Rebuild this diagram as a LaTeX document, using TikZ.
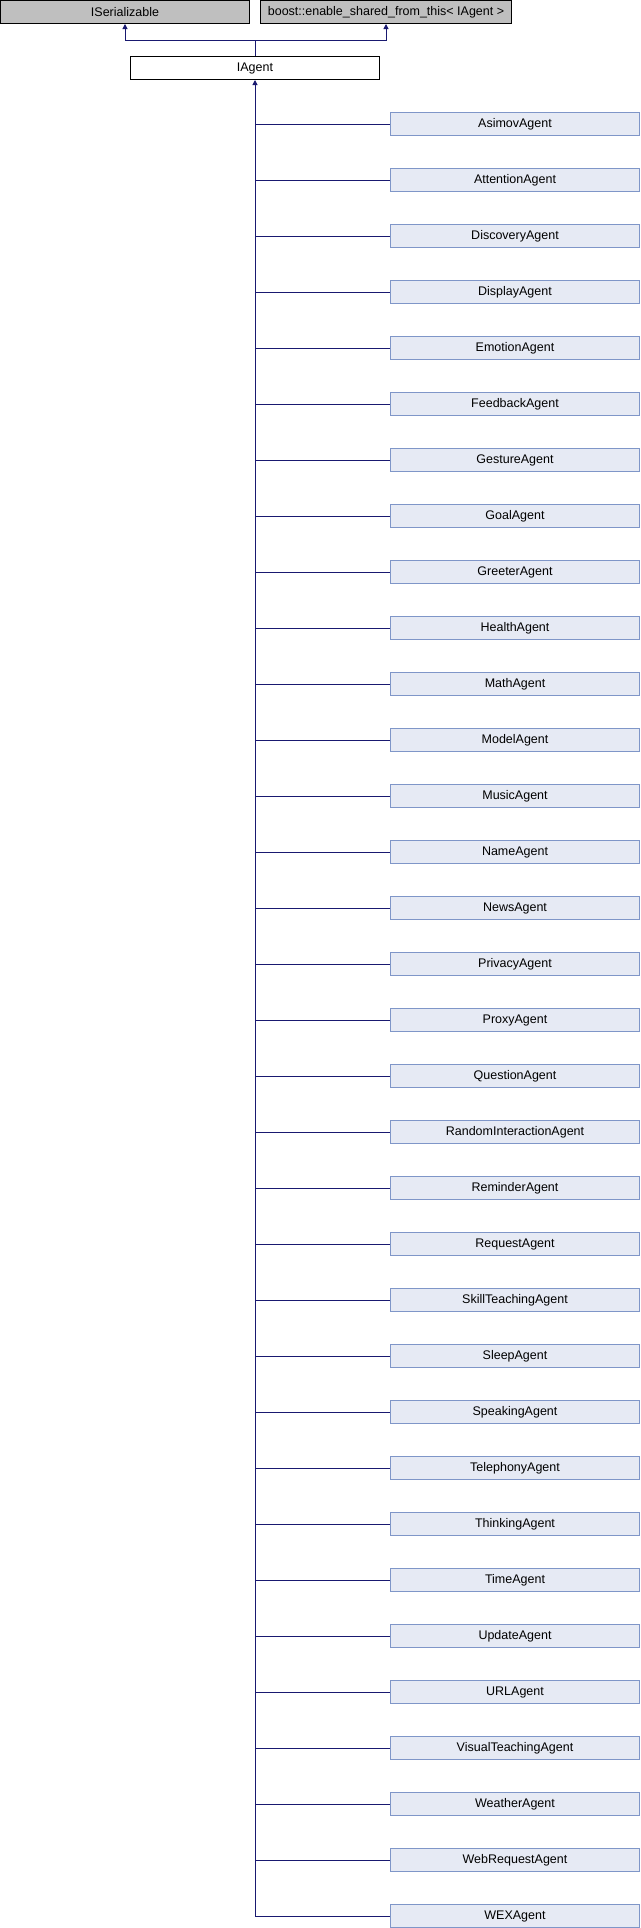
\documentclass[tikz,border=0pt]{standalone}
\usepackage{fontspec}
\setmainfont{Liberation Sans}
\usetikzlibrary{arrows.meta}
\definecolor{edgeblue}{HTML}{191970}
\definecolor{childfill}{HTML}{E6EAF4}
\definecolor{childdraw}{HTML}{7F96C8}
\definecolor{basefill}{HTML}{BFBFBF}
\begin{document}
\begin{tikzpicture}[x=1pt,y=-1pt,
  every node/.style={font=\fontsize{12.5}{15}\selectfont, inner sep=0pt, anchor=center},
  basebox/.style={draw=black, fill=basefill, line width=1pt, minimum width=249pt, minimum height=23pt},
  mainbox/.style={draw=black, fill=white, line width=1pt, minimum width=249pt, minimum height=23pt},
  childbox/.style={draw=childdraw, fill=childfill, line width=1pt, minimum width=249pt, minimum height=23pt},
  edge/.style={draw=edgeblue, line width=1pt},
  tip/.style={{Triangle[length=5pt,width=5pt]}-}]
\useasboundingbox (0,0) rectangle (640,1928);
\node[basebox] (ISer) at (125,12) {ISerializable};
\node[basebox, minimum width=251pt] (Boost) at (386,12) {boost::enable\_shared\_from\_this< IAgent >};
\node[mainbox] (IAgent) at (255,68) {IAgent};
\coordinate (join) at (255,40.5);
\draw[edge, tip] (ISer.south) |- (join);
\draw[edge, tip] (Boost.south) |- (join);
\draw[edge] (IAgent.north) -- (join);
\coordinate (trunkend) at (255,1916);
\draw[edge, tip] (IAgent.south) -- (trunkend);
\foreach [count=\i from 0] \n in {AsimovAgent,AttentionAgent,DiscoveryAgent,DisplayAgent,EmotionAgent,FeedbackAgent,GestureAgent,GoalAgent,GreeterAgent,HealthAgent,MathAgent,ModelAgent,MusicAgent,NameAgent,NewsAgent,PrivacyAgent,ProxyAgent,QuestionAgent,RandomInteractionAgent,ReminderAgent,RequestAgent,SkillTeachingAgent,SleepAgent,SpeakingAgent,TelephonyAgent,ThinkingAgent,TimeAgent,UpdateAgent,URLAgent,VisualTeachingAgent,WeatherAgent,WebRequestAgent,WEXAgent} {
  \node[childbox] (c\i) at (515,124+56*\i) {\n};
  \draw[edge] (c\i.west -| IAgent.south) -- (c\i.west);
}
\end{tikzpicture}
\end{document}
